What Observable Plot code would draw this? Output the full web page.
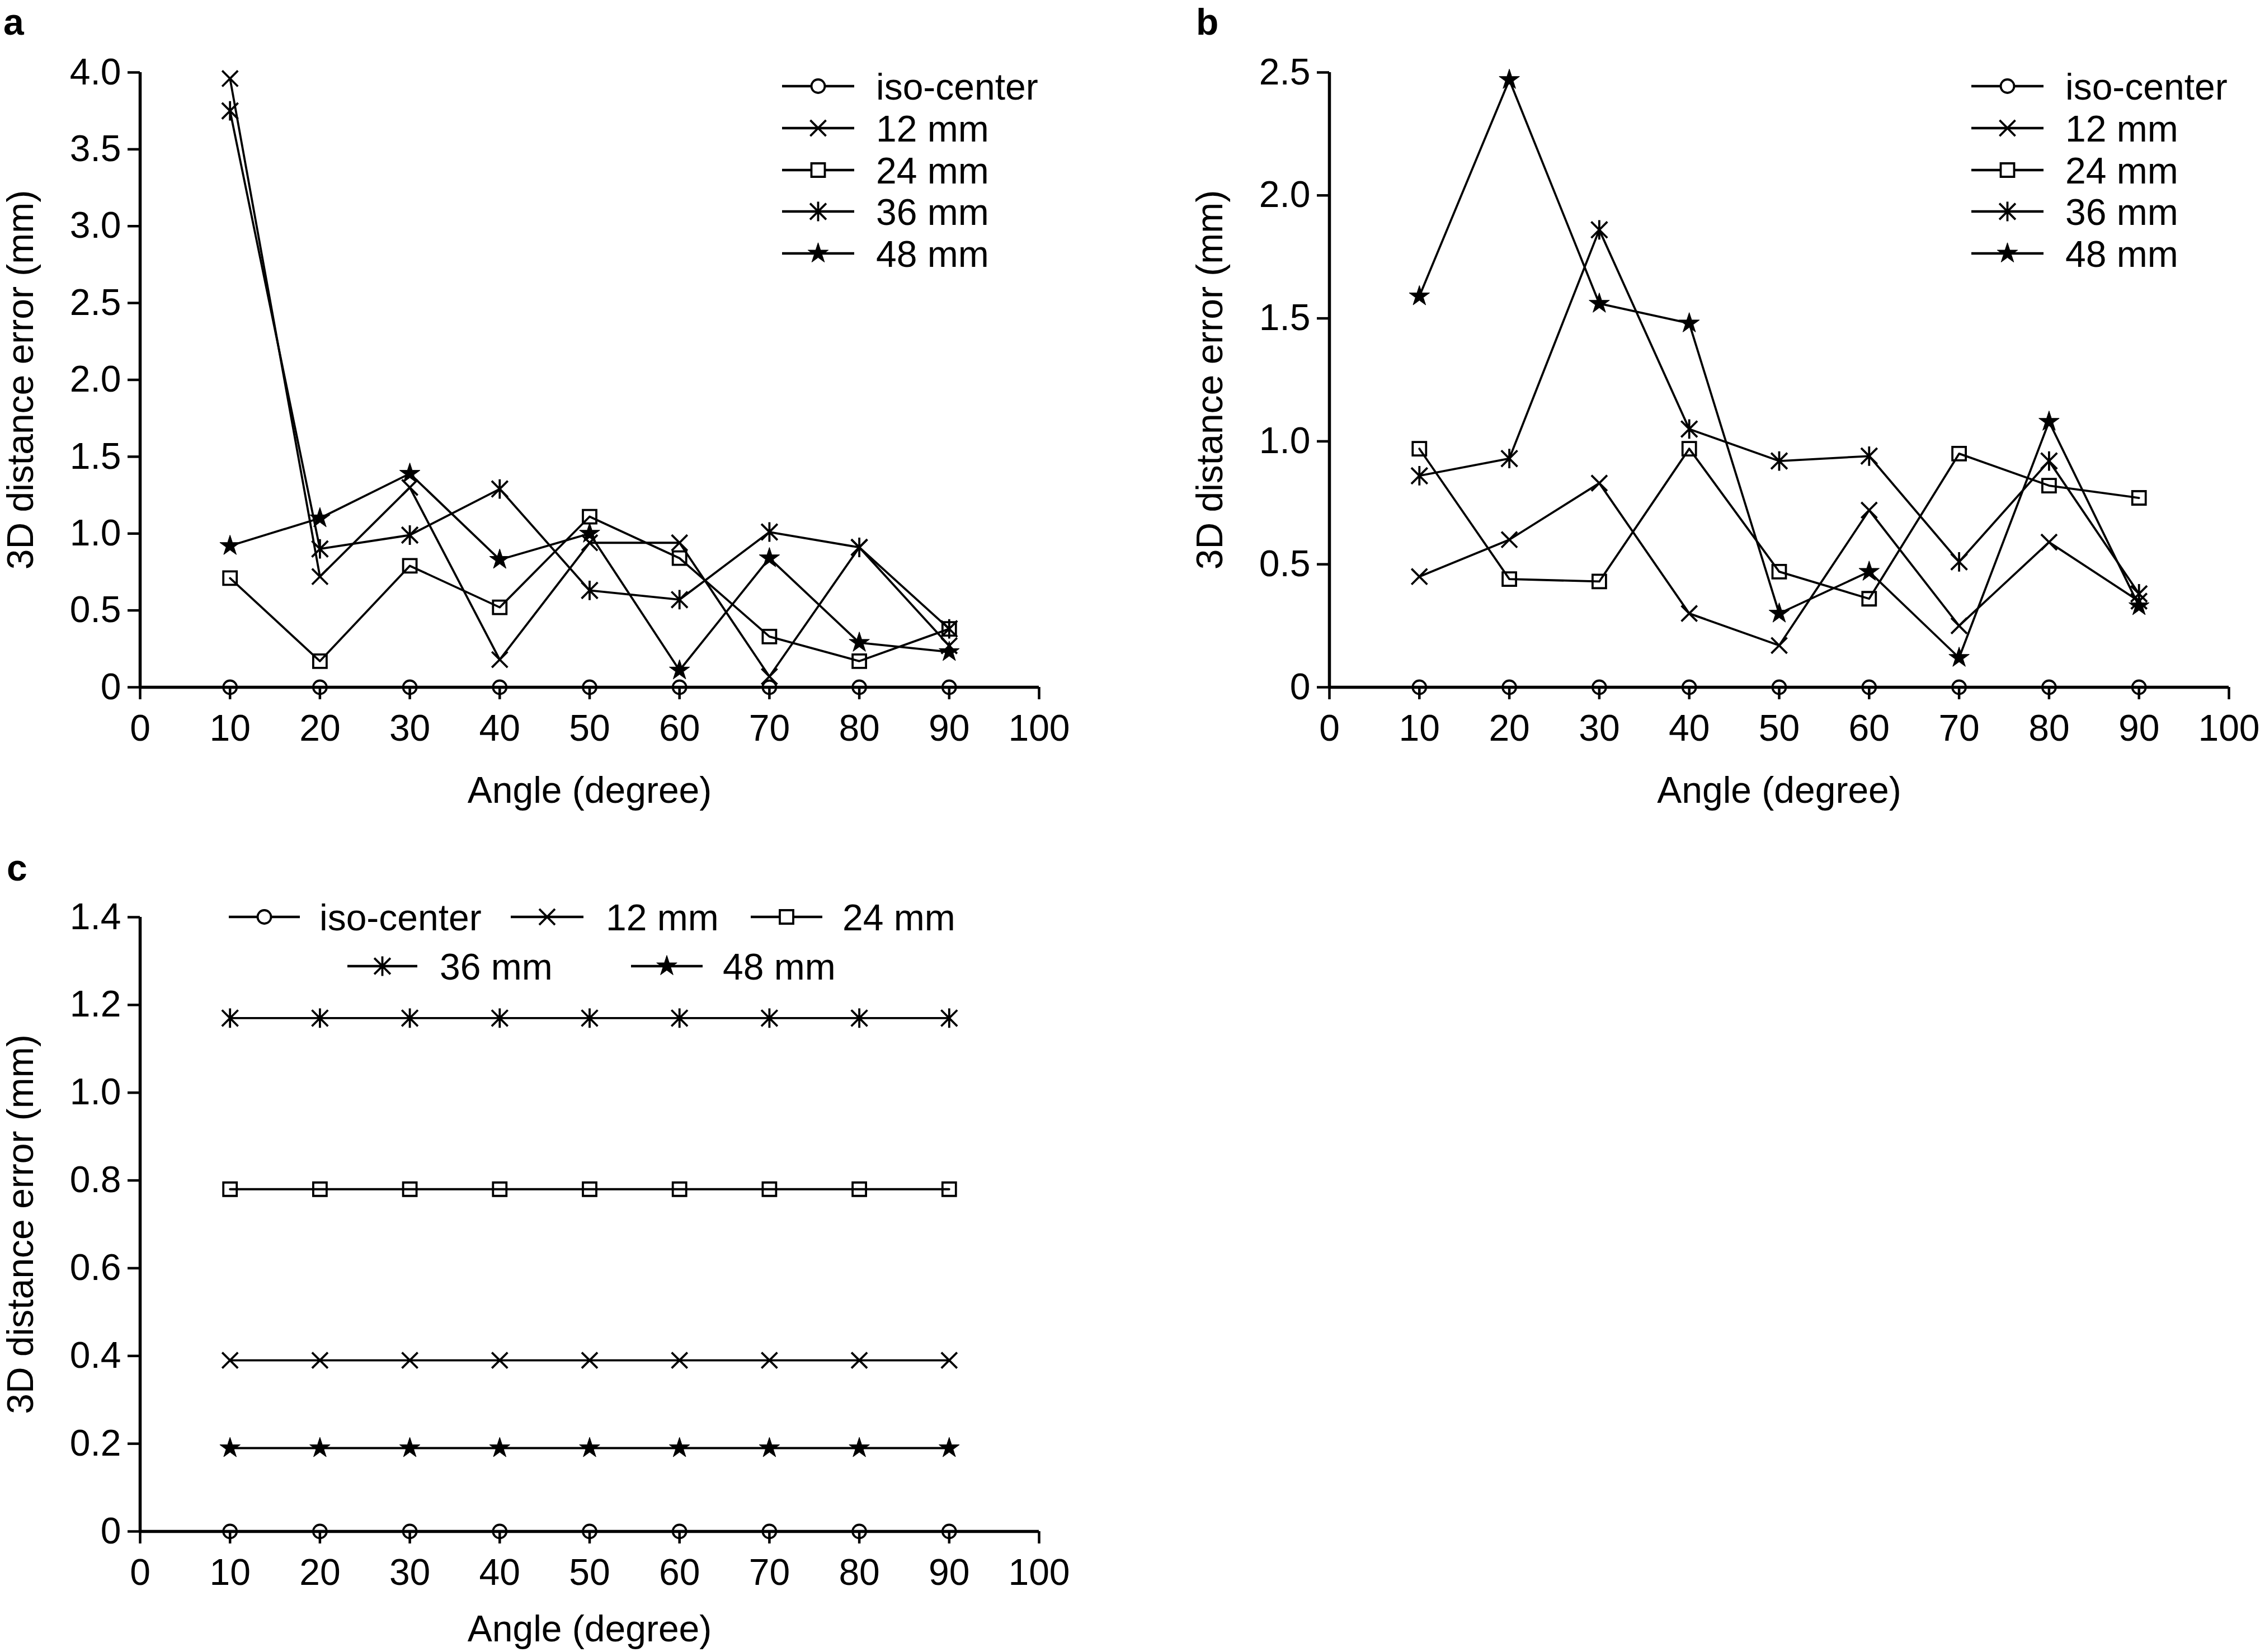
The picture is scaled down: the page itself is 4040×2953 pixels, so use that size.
<!DOCTYPE html>
<html><head><meta charset="utf-8">
<script src="https://cdn.jsdelivr.net/npm/d3@7"></script>
<script src="https://cdn.jsdelivr.net/npm/@observablehq/plot@0.6"></script>
<style>
html,body{margin:0;padding:0;background:#fff;}
#root{position:relative;width:4040px;height:2953px;overflow:hidden;background:#fff;font-family:"Liberation Sans",Arial,sans-serif;}
.panel{position:absolute;}
</style></head><body><div id="root"></div>
<script>
// ---------- data ----------
const angles = [10, 20, 30, 40, 50, 60, 70, 80, 90];
const seriesNames = ["iso-center", "12 mm", "24 mm", "36 mm", "48 mm"];
const xTicks = [0, 10, 20, 30, 40, 50, 60, 70, 80, 90, 100];
const axisTitleX = "Angle (degree)";
const axisTitleY = "3D distance error (mm)";
const panelLetters = ["a", "b", "c"];

// panel a
const aIso = [0, 0, 0, 0, 0, 0, 0, 0, 0];
const a12 = [3.96, 0.72, 1.30, 0.18, 0.94, 0.94, 0.07, 0.91, 0.27];
const a24 = [0.71, 0.17, 0.79, 0.52, 1.11, 0.84, 0.33, 0.17, 0.38];
const a36 = [3.75, 0.90, 0.99, 1.29, 0.63, 0.57, 1.01, 0.91, 0.38];
const a48 = [0.92, 1.10, 1.39, 0.83, 1.00, 0.11, 0.84, 0.29, 0.23];
const aYTicks = [0, 0.5, 1.0, 1.5, 2.0, 2.5, 3.0, 3.5, 4.0];

// panel b
const bIso = [0, 0, 0, 0, 0, 0, 0, 0, 0];
const b12 = [0.45, 0.60, 0.83, 0.30, 0.17, 0.72, 0.25, 0.59, 0.35];
const b24 = [0.97, 0.44, 0.43, 0.97, 0.47, 0.36, 0.95, 0.82, 0.77];
const b36 = [0.86, 0.93, 1.86, 1.05, 0.92, 0.94, 0.51, 0.92, 0.38];
const b48 = [1.59, 2.47, 1.56, 1.48, 0.30, 0.47, 0.12, 1.08, 0.33];
const bYTicks = [0, 0.5, 1.0, 1.5, 2.0, 2.5];

// panel c
const cIso = [0, 0, 0, 0, 0, 0, 0, 0, 0];
const c12 = [0.39, 0.39, 0.39, 0.39, 0.39, 0.39, 0.39, 0.39, 0.39];
const c24 = [0.78, 0.78, 0.78, 0.78, 0.78, 0.78, 0.78, 0.78, 0.78];
const c36 = [1.17, 1.17, 1.17, 1.17, 1.17, 1.17, 1.17, 1.17, 1.17];
const c48 = [0.19, 0.19, 0.19, 0.19, 0.19, 0.19, 0.19, 0.19, 0.19];
const cYTicks = [0, 0.2, 0.4, 0.6, 0.8, 1.0, 1.2, 1.4];

// ---------- symbols ----------
function sym(fn) { return {draw(ctx, size) { fn(ctx, Math.sqrt(size / Math.PI)); }}; }
const circleSym = sym((c, r) => { c.moveTo(r, 0); c.arc(0, 0, r, 0, 2 * Math.PI); c.closePath(); });
const timesSym = sym((c, r) => { const h = r * 1.17; c.moveTo(-h, -h); c.lineTo(h, h); c.moveTo(-h, h); c.lineTo(h, -h); });
const squareSym = sym((c, r) => { const h = r; c.moveTo(-h, -h); c.lineTo(h, -h); c.lineTo(h, h); c.lineTo(-h, h); c.closePath(); });
const asteriskSym = sym((c, r) => { const v = r * 1.45, d = r * 1.2; c.moveTo(0, -v); c.lineTo(0, v); c.moveTo(-d, -d); c.lineTo(d, d); c.moveTo(-d, d); c.lineTo(d, -d); });
const starSym = sym((c, r) => {
  const Ro = r * 1.6, Ri = Ro * 0.382;
  for (let i = 0; i < 10; i++) {
    const rad = i % 2 ? Ri : Ro, a = -Math.PI / 2 + i * Math.PI / 5;
    const x = rad * Math.cos(a), y = rad * Math.sin(a);
    if (i) c.lineTo(x, y); else c.moveTo(x, y);
  }
  c.closePath();
});
const symbols = [circleSym, timesSym, squareSym, asteriskSym, starSym];
const filled = [false, false, false, false, true];
const R = 12;
const FONT = "\"Liberation Sans\", Arial, Helvetica, sans-serif";

const fmtY = d => d === 0 ? "0" : d.toFixed(1);

function panel({series, yTicks, yMax, left, top, width, height, mL, mR, mT, mB, titleOffset}) {
  const marks = [];
  marks.push(Plot.axisX({ticks: xTicks, tickSize: 22, tickPadding: 27, strokeWidth: 4.5,
    tickFormat: d => String(d), label: axisTitleX, labelAnchor: "center", labelOffset: titleOffset, labelArrow: "none"}));
  marks.push(Plot.axisY({ticks: yTicks, tickSize: 22, tickPadding: 12, strokeWidth: 4.5,
    tickFormat: fmtY, label: axisTitleY, labelAnchor: "center", labelOffset: 238, labelArrow: "none"}));
  series.forEach((arr, k) => {
    const data = angles.map((x, i) => ({x, y: arr[i]}));
    marks.push(Plot.line(data, {x: "x", y: "y", stroke: "black", strokeWidth: 3.8}));
  });
  series.forEach((arr, k) => {
    const data = angles.map((x, i) => ({x, y: arr[i]}));
    marks.push(Plot.dot(data, {x: "x", y: "y", symbol: symbols[k], r: R,
      stroke: "black", strokeWidth: filled[k] ? 1 : 3.8, fill: filled[k] ? "black" : "none"}));
  });
  marks.push(Plot.ruleX([0], {y1: 0, y2: yMax, stroke: "black", strokeWidth: 5.5}));
  marks.push(Plot.ruleY([0], {x1: 0, x2: 100, stroke: "black", strokeWidth: 5.5}));
  const svg = Plot.plot({
    width, height, marginLeft: mL, marginRight: mR, marginTop: mT, marginBottom: mB,
    x: {domain: [0, 100]},
    y: {domain: [0, yMax]},
    style: {fontFamily: FONT, fontSize: "66px", color: "black", background: "transparent", overflow: "visible"},
    marks
  });
  svg.classList.add("panel");
  svg.style.left = left + "px";
  svg.style.top = top + "px";
  document.getElementById("root").appendChild(svg);
}

panel({series: [aIso, a12, a24, a36, a48], yTicks: aYTicks, yMax: 4, titleOffset: 206,
  left: 0, top: 0, width: 2000, height: 1468, mL: 250, mR: 143, mT: 129, mB: 240});
panel({series: [bIso, b12, b24, b36, b48], yTicks: bYTicks, yMax: 2.5, titleOffset: 206,
  left: 2126, top: 0, width: 1914, height: 1468, mL: 250, mR: 56, mT: 129, mB: 240});
panel({series: [cIso, c12, c24, c36, c48], yTicks: cYTicks, yMax: 1.4, titleOffset: 196,
  left: 0, top: 1500, width: 2000, height: 1453, mL: 250, mR: 143, mT: 139, mB: 216});

// ---------- overlay: legends and panel letters ----------
const overlay = d3.select("#root").append("svg")
  .attr("width", 4040).attr("height", 2953)
  .style("position", "absolute").style("left", 0).style("top", 0)
  .style("font-family", FONT);

function legendItem(x1, x2, y, tx, k) {
  const g = overlay.append("g");
  g.append("line").attr("x1", x1).attr("x2", x2).attr("y1", y).attr("y2", y)
    .attr("stroke", "black").attr("stroke-width", 4.5);
  g.append("path").attr("transform", `translate(${(x1 + x2) / 2},${y})`)
    .attr("d", d3.symbol().type(symbols[k]).size(Math.PI * R * R)())
    .attr("fill", filled[k] ? "black" : "white")
    .attr("stroke", "black").attr("stroke-width", filled[k] ? 1 : 3.8);
  g.append("text").attr("x", tx).attr("y", y + 23.5).attr("font-size", 66).text(seriesNames[k]);
}
const legRows = [154, 229, 304, 378, 453];
seriesNames.forEach((n, k) => legendItem(1398, 1527, legRows[k], 1566, k));
seriesNames.forEach((n, k) => legendItem(3524, 3653, legRows[k], 3692, k));
// panel c legend (two rows)
legendItem(409, 536, 1639, 571, 0);
legendItem(913, 1043, 1639, 1083, 1);
legendItem(1342, 1470, 1639, 1506, 2);
legendItem(621, 746, 1727, 786, 3);
legendItem(1128, 1256, 1727, 1292, 4);

const letterPos = [[6, 62], [2138, 62], [12, 1574]];
panelLetters.forEach((t, i) => overlay.append("text").attr("x", letterPos[i][0]).attr("y", letterPos[i][1])
  .attr("font-size", 66).attr("font-weight", "bold").text(t));
</script>
</body></html>
